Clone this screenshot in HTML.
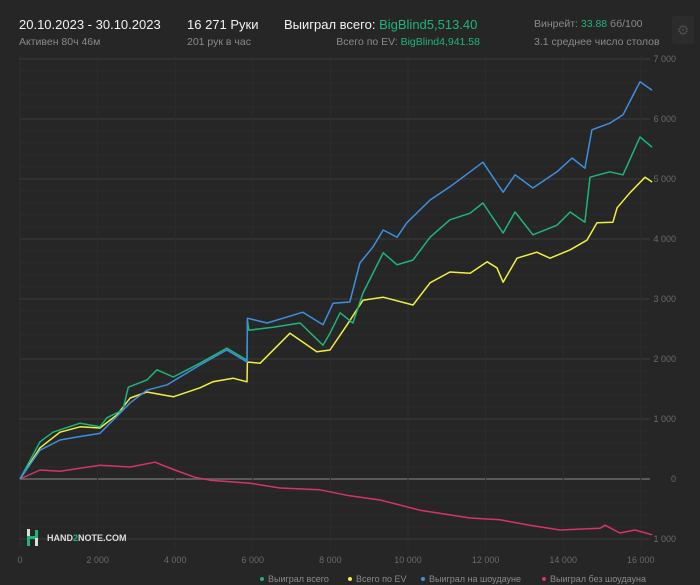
<!DOCTYPE html>
<html><head><meta charset="utf-8">
<style>
html,body{margin:0;padding:0;background:#262626;}
body{width:700px;height:585px;overflow:hidden;font-family:"Liberation Sans","Noto Sans CJK SC",sans-serif;position:relative;}
.t{position:absolute;white-space:nowrap;}
.big{font-size:13px;color:#f2f2f2;}
.sm{font-size:10.5px;color:#8a8a8a;}
.g{color:#1fb57a;}
</style></head><body>
<div class="t big" style="left:19px;top:17px">20.10.2023 - 30.10.2023</div>
<div class="t sm" style="left:19px;top:36px">Активен 80ч 46м</div>
<div class="t big" style="left:187px;top:17px">16 271 Руки</div>
<div class="t sm" style="left:187px;top:36px">201 рук в час</div>
<div class="t big" style="left:284px;top:17px">Выиграл всего: <span class="g">BigBlind5,513.40</span></div>
<div class="t sm" style="right:220px;top:36px">Всего по EV: <span class="g">BigBlind4,941.58</span></div>
<div class="t sm" style="left:534px;top:18px">Винрейт: <span class="g">33.88</span> бб/100</div>
<div class="t sm" style="left:534px;top:36px">3.1 среднее число столов</div>
<div class="t" style="left:672px;top:16px;width:22px;height:28px;border-radius:3px;background:#2c2c2c;color:#4a4a4a;font-size:14px;text-align:center;line-height:28px">⚙</div>

<svg id="chart" width="700" height="585" style="position:absolute;left:0;top:0">
<g id="grid"></g><g id="lines"></g><g id="labels"></g>
<g>
<rect x="27" y="529" width="3" height="8" fill="#ddd"/><rect x="27" y="537" width="3" height="9" fill="#1fb57a"/>
<rect x="27" y="536" width="9" height="3" fill="#1fb57a"/>
<rect x="35" y="530" width="3" height="8" fill="#1fb57a"/><rect x="35" y="538" width="3" height="8" fill="#ddd"/>
<text x="47" y="541" font-size="9" font-weight="bold" fill="#ddd" font-family="Liberation Sans, sans-serif">HAND<tspan fill="#1fb57a">2</tspan>NOTE.COM</text>
</g>
</svg>
<script>
const yTicks=[7000,6000,5000,4000,3000,2000,1000,0,-1000];
const yTickLabels=["7 000","6 000","5 000","4 000","3 000","2 000","1 000","0","1 000"];
const xTicks=[0,2000,4000,6000,8000,10000,12000,14000,16000];
const xTickLabels=["0","2 000","4 000","6 000","8 000","10 000","12 000","14 000","16 000"];
const greenH=[0,515,850,1550,2060,2240,2650,2790,3270,3530,3950,4640,5330,5850,5860,5900,6520,7220,7810,7990,8250,8580,8840,9360,9720,10130,10570,11080,11600,11930,12450,12760,13220,13840,14180,14560,14690,15200,15540,15980,16290];
const greenV=[0,620,780,930,870,1020,1150,1530,1650,1820,1700,1930,2180,1980,2650,2480,2530,2600,2230,2430,2770,2600,3100,3770,3570,3650,4030,4320,4430,4600,4100,4450,4070,4230,4450,4280,5030,5120,5070,5700,5530];
const blueH=[0,515,1030,1470,2060,2320,2840,3270,3790,4640,5330,5850,5860,6370,7290,7810,8070,8500,8760,9100,9360,9720,9970,10570,11080,11600,11930,12450,12760,13220,13840,14230,14560,14740,15200,15540,15980,16290];
const blueV=[0,480,650,700,760,930,1270,1480,1570,1900,2150,1950,2680,2600,2780,2570,2930,2950,3600,3870,4150,4030,4270,4650,4870,5120,5280,4780,5070,4850,5120,5350,5180,5820,5930,6070,6620,6480];
const yellowH=[0,515,1030,1550,2060,2500,2840,3270,3950,4640,4970,5490,5850,5860,6190,6960,7650,7990,8430,8840,9360,10130,10570,11080,11600,12040,12290,12450,12810,13320,13660,14180,14610,14870,15280,15390,15720,16110,16290];
const yellowV=[0,520,780,870,850,1070,1350,1450,1370,1520,1620,1680,1620,1950,1930,2430,2120,2150,2570,2980,3030,2900,3270,3450,3430,3620,3520,3280,3680,3780,3680,3820,3980,4270,4280,4520,4770,5030,4950];
const redH=[0,515,1030,2060,2840,3480,3990,4500,4900,5930,6700,7730,8500,9280,10310,11600,12370,13140,13920,14950,15080,15460,15850,16290];
const redV=[0,150,130,230,200,280,150,30,-20,-70,-150,-180,-280,-350,-520,-650,-680,-770,-850,-820,-770,-900,-850,-930];
const legendNames=["Выиграл всего","Всего по EV","Выиграл на шоудауне","Выиграл без шоудауна"];

const NS="http://www.w3.org/2000/svg";
const X0=20,X1=650;
const xs=h=>20+h*0.0388;
const ys=v=>479-v*0.06;
function mk(tag,attrs,parent){const e=document.createElementNS(NS,tag);for(const k in attrs)e.setAttribute(k,attrs[k]);parent.appendChild(e);return e;}
const grid=document.getElementById('grid'),lines=document.getElementById('lines'),labels=document.getElementById('labels');
for(let v=-1000;v<=7000;v+=200){
  const major=v%1000===0;
  const l=mk('line',{x1:X0,x2:X1,y1:ys(v),y2:ys(v),stroke:v===0?'#6a6a6a':(major?'#3c3c3c':'#2c2c2c'),'stroke-width':v===0?1.5:1},grid);
  
  
}
xTicks.forEach((h,i)=>{
  const l=mk('line',{x1:xs(h),x2:xs(h),y1:55,y2:548,stroke:'#2d2d2d'},grid);
  
  
  const t=mk('text',{x:xs(h),y:563,'font-size':9,fill:'#6a6a6a','text-anchor':'middle'},labels);
  t.textContent=xTickLabels[i];
  
  
});
yTicks.forEach((v,i)=>{
  const t=mk('text',{x:676,y:ys(v)+3,'font-size':9,fill:'#6a6a6a','text-anchor':'end'},labels);
  t.textContent=yTickLabels[i];
  
  
});
const series=[[redH,redV,'#d6336c','series-no-showdown'],[yellowH,yellowV,'#f0f040','series-ev'],[greenH,greenV,'#1fb57a','series-total'],[blueH,blueV,'#3d8fe0','series-showdown']];
series.forEach(s=>{
  const d=s[0].map((h,i)=>(i?'L':'M')+xs(h).toFixed(1)+' '+ys(s[1][i]).toFixed(1)).join(' ');
  const p=mk('path',{d:d,fill:'none',stroke:s[2],'stroke-width':1.5,'stroke-linejoin':'round'},lines);
  
  
});
const legCols=['#1fb57a','#f0f040','#3d8fe0','#d6336c'];
const legX=[262,350,423,544];
legendNames.forEach((n,i)=>{
  const c=mk('circle',{cx:legX[i],cy:579,r:2,fill:legCols[i]},labels);
  
  
  const t=mk('text',{x:legX[i]+6,y:582,'font-size':9,fill:'#8a8a8a'},labels);
  t.textContent=n;
  
  
});
</script>
</body></html>
